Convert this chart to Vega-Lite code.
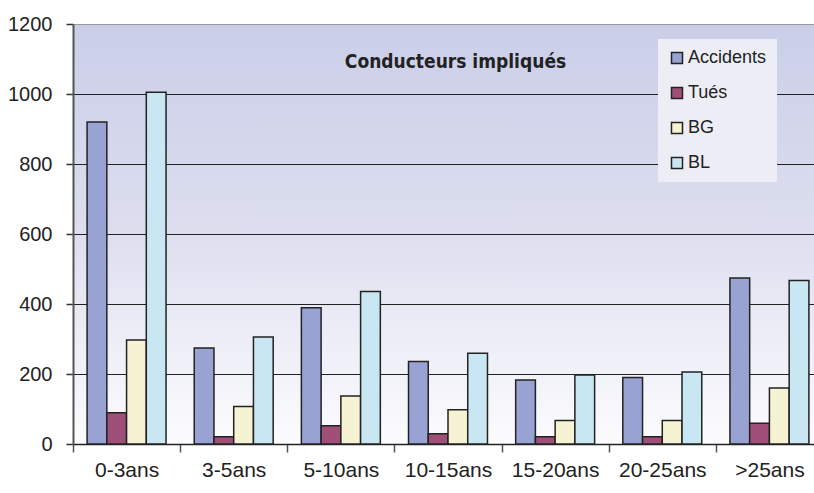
{
  "$schema": "https://vega.github.io/schema/vega-lite/v6.json",
  "width": 741,
  "height": 420,
  "autosize": {"type": "none"},
  "padding": {"left": 73, "top": 24, "right": 0, "bottom": 49},
  "background": "white",
  "title": {
    "text": "Conducteurs impliqués",
    "font": "DejaVu Sans Condensed, Roboto Condensed, Roboto",
    "fontWeight": "bold",
    "fontSize": 19,
    "color": "#222222",
    "anchor": "middle",
    "frame": "group",
    "baseline": "alphabetic",
    "offset": 0,
    "dx": 12,
    "dy": 73
  },
  "data": {
    "values": [
      {"age": "0-3ans", "serie": "Accidents", "value": 920},
      {"age": "0-3ans", "serie": "Tués", "value": 89},
      {"age": "0-3ans", "serie": "BG", "value": 297},
      {"age": "0-3ans", "serie": "BL", "value": 1005},
      {"age": "3-5ans", "serie": "Accidents", "value": 274},
      {"age": "3-5ans", "serie": "Tués", "value": 21},
      {"age": "3-5ans", "serie": "BG", "value": 107},
      {"age": "3-5ans", "serie": "BL", "value": 306},
      {"age": "5-10ans", "serie": "Accidents", "value": 389},
      {"age": "5-10ans", "serie": "Tués", "value": 52},
      {"age": "5-10ans", "serie": "BG", "value": 137},
      {"age": "5-10ans", "serie": "BL", "value": 436},
      {"age": "10-15ans", "serie": "Accidents", "value": 236},
      {"age": "10-15ans", "serie": "Tués", "value": 29},
      {"age": "10-15ans", "serie": "BG", "value": 98},
      {"age": "10-15ans", "serie": "BL", "value": 259},
      {"age": "15-20ans", "serie": "Accidents", "value": 183},
      {"age": "15-20ans", "serie": "Tués", "value": 21},
      {"age": "15-20ans", "serie": "BG", "value": 67},
      {"age": "15-20ans", "serie": "BL", "value": 197},
      {"age": "20-25ans", "serie": "Accidents", "value": 190},
      {"age": "20-25ans", "serie": "Tués", "value": 21},
      {"age": "20-25ans", "serie": "BG", "value": 67},
      {"age": "20-25ans", "serie": "BL", "value": 206},
      {"age": ">25ans", "serie": "Accidents", "value": 474},
      {"age": ">25ans", "serie": "Tués", "value": 59},
      {"age": ">25ans", "serie": "BG", "value": 160},
      {"age": ">25ans", "serie": "BL", "value": 467}
    ]
  },
  "mark": {"type": "bar", "stroke": "#222222", "strokeWidth": 1.5},
  "encoding": {
    "x": {
      "field": "age",
      "type": "nominal",
      "sort": ["0-3ans", "3-5ans", "5-10ans", "10-15ans", "15-20ans", "20-25ans", ">25ans"],
      "scale": {"range": [0, 750], "paddingInner": 0, "paddingOuter": 0},
      "axis": {
        "title": null,
        "labelAngle": 0,
        "labelFont": "Liberation Sans",
        "labelFontSize": 21,
        "labelColor": "#222222",
        "labelPadding": 7,
        "tickBand": "extent",
        "tickSize": 8,
        "tickColor": "#555555",
        "tickWidth": 1.5,
        "domainColor": "#222222",
        "domainWidth": 1.5,
        "grid": false
      }
    },
    "xOffset": {
      "field": "serie",
      "type": "nominal",
      "sort": ["Accidents", "Tués", "BG", "BL"],
      "scale": {"paddingInner": 0, "paddingOuter": 0.714}
    },
    "y": {
      "field": "value",
      "type": "quantitative",
      "scale": {"domain": [0, 1200], "nice": false},
      "axis": {
        "title": null,
        "values": [0, 200, 400, 600, 800, 1000, 1200],
        "format": "d",
        "labelFont": "Liberation Sans",
        "labelFontSize": 20,
        "labelColor": "#222222",
        "labelPadding": 14,
        "tickSize": 7,
        "tickColor": "#333333",
        "tickWidth": 1.5,
        "domainColor": "#555555",
        "domainWidth": 2,
        "grid": true,
        "gridColor": {"condition": {"test": "datum.value === 1200", "value": "#9a9a9a"}, "value": "#222222"},
        "gridWidth": 1.2
      }
    },
    "color": {
      "field": "serie",
      "type": "nominal",
      "sort": ["Accidents", "Tués", "BG", "BL"],
      "scale": {
        "domain": ["Accidents", "Tués", "BG", "BL"],
        "range": ["#99a3d3", "#a05078", "#f5f3d3", "#c9e7f3"]
      },
      "legend": {
        "title": null,
        "orient": "none",
        "legendX": 585,
        "legendY": 15,
        "fillColor": "#edeef5",
        "padding": 10,
        "symbolType": "square",
        "symbolSize": 121,
        "symbolStrokeColor": "#222222",
        "symbolStrokeWidth": 1.5,
        "symbolOpacity": 1,
        "labelFont": "Liberation Sans",
        "labelFontSize": 18,
        "labelColor": "#222222",
        "labelOffset": 2,
        "rowPadding": 17
      }
    }
  },
  "config": {
    "view": {
      "stroke": null,
      "fill": {
        "gradient": "linear",
        "x1": 0, "y1": 0, "x2": 0, "y2": 1,
        "stops": [
          {"offset": 0, "color": "#caceE8"},
          {"offset": 0.5, "color": "#dddfef"},
          {"offset": 1, "color": "#fcfcfe"}
        ]
      }
    }
  }
}
